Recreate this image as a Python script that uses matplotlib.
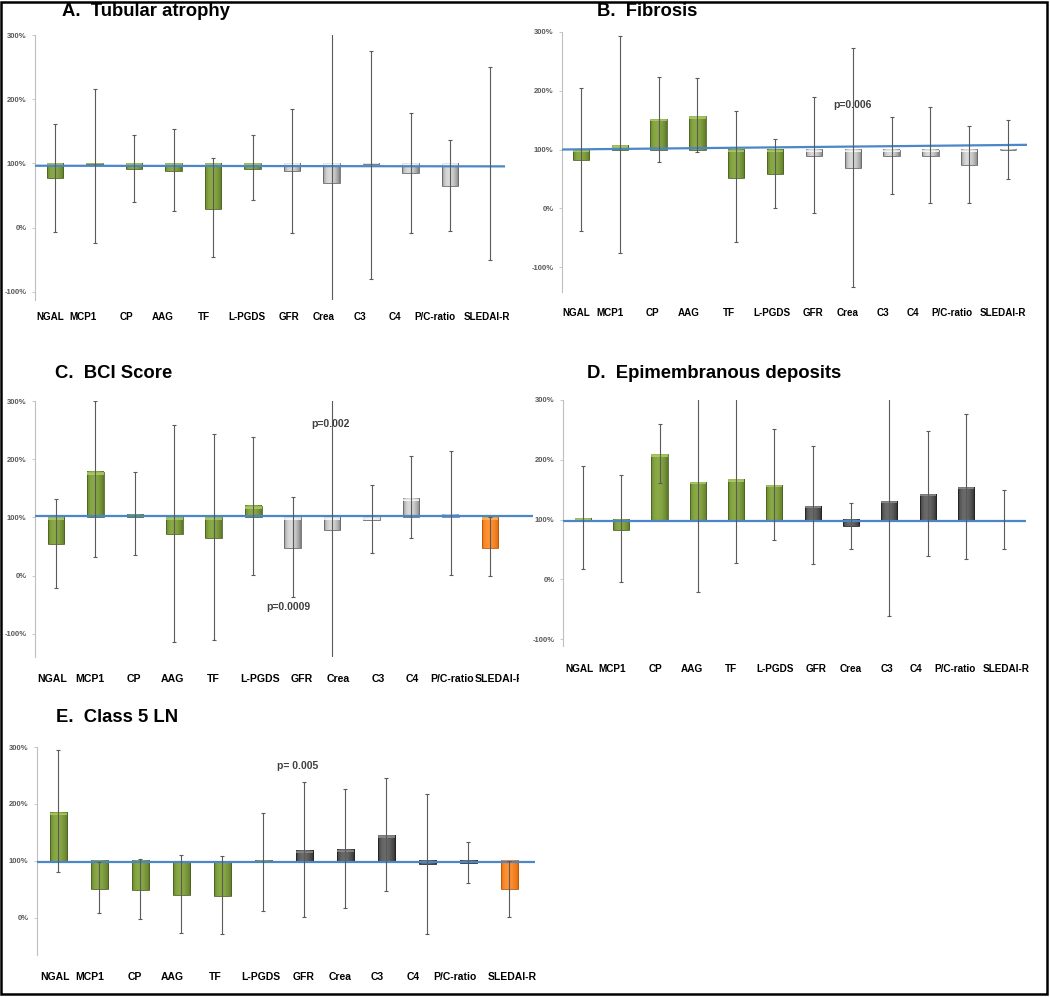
import numpy as np
import matplotlib
matplotlib.use('Agg')
import matplotlib.pyplot as plt
from matplotlib.patches import Rectangle
from matplotlib.transforms import Bbox, TransformedBbox

plt.rcParams['font.family'] = ['Liberation Sans', 'DejaVu Sans']

# ----------------------- data (percent of reference) -----------------------
cats = ['NGAL', 'MCP1', 'CP', 'AAG', 'TF', 'L-PGDS', 'GFR', 'Crea', 'C3', 'C4', 'P/C-ratio', 'SLEDAI-R']
titles = ['A.  Tubular atrophy', 'B.  Fibrosis', 'C.  BCI Score',
          'D.  Epimembranous deposits', 'E.  Class 5 LN']

A_val = [77, 99, 92, 89, 29, 92, 88, 69, 99, 85, 65, 100]
A_hi = [162, 216, 145, 153, 108, 144, 185, 320, 275, 178, 137, 250]
A_lo = [-6, -23, 40, 26, -46, 43, -8, -125, -80, -8, -5, -50]
A_ref = [96.5, 95.5]
A_grp = ['g'] * 6 + ['l'] * 6

B_val = [82, 107, 152, 157, 52, 58, 89, 69, 89, 89, 73, 99]
B_hi = [205, 293, 224, 221, 166, 118, 189, 273, 155, 173, 140, 151]
B_lo = [-38, -76, 78, 95, -58, 1, -8, -134, 24, 9, 9, 49]
B_ref = [100, 108]
B_grp = ['g'] * 6 + ['l'] * 6

C_val = [54, 178, 105, 71, 65, 119, 47, 79, 95, 132, 105, 47]
C_hi = [131, 300, 178, 259, 244, 238, 135, 320, 156, 205, 214, 100]
C_lo = [-21, 33, 35, -114, -111, 2, -36, -150, 39, 65, 2, 0]
C_ref = [103, 103]
C_grp = ['g'] * 6 + ['l', 'l', 'l', 'l', 'b', 'o']

D_val = [102, 83, 209, 163, 167, 158, 123, 89, 131, 143, 155, 100]
D_hi = [189, 174, 259, 320, 320, 251, 223, 128, 320, 248, 276, 150]
D_lo = [18, -5, 161, -22, 28, 66, 25, 51, -61, 39, 34, 50]
D_ref = [97, 97]
D_grp = ['g'] * 6 + ['d'] * 6

E_val = [185, 50, 49, 41, 39, 98, 118, 120, 145, 94, 96, 50]
E_hi = [295, 98, 103, 111, 109, 184, 239, 227, 246, 218, 133, 100]
E_lo = [80, 9, -1, -26, -29, 12, 1, 18, 47, -28, 61, 1]
E_ref = [98, 98]
E_grp = ['g'] * 6 + ['d'] * 5 + ['o']

# p-value notes: (panel, text, category position, percent)
notes = [(1, 'p=0.006', 7.0, 175), (2, 'p=0.002', 6.95, 260),
         (2, 'p=0.0009', 5.88, -54), (4, 'p= 0.005', 5.85, 267)]

# ----------------------- layout (pixels) -----------------------------------
W, H = 1050, 997
# axes box x0, x1, ytop, ybot ; ylim bottom ; xlim ; title pos ; label y ; label x (bar units)
layout = [
    dict(box=(35, 505, 35, 300), ymin=-112.5, xl=(-0.51, 11.39), tt=(62, 12), lab=317, fs=7.1,
         lx=[-0.13, 0.71, 1.8, 2.73, 3.77, 4.86, 5.92, 6.81, 7.72, 8.61, 9.62, 10.94]),
    dict(box=(562, 1027, 32, 292), ymin=-142.5, xl=(-0.49, 11.49), tt=(597, 12), lab=313, fs=7.1,
         lx=[-0.11, 0.75, 1.84, 2.78, 3.81, 4.92, 5.98, 6.86, 7.79, 8.55, 9.55, 10.88]),
    dict(box=(35, 533, 401, 657), ymin=-139.5, xl=(-0.53, 12.09), tt=(55, 373), lab=679, fs=7.6,
         lx=[-0.1, 0.86, 1.98, 2.94, 3.98, 5.17, 6.24, 7.15, 8.16, 9.02, 10.04, 11.25]),
    dict(box=(563, 1026, 400, 646), ymin=-111.7, xl=(-0.52, 11.57), tt=(587, 373), lab=669, fs=7.2,
         lx=[-0.08, 0.77, 1.9, 2.85, 3.87, 5.01, 6.08, 6.99, 7.93, 8.7, 9.72, 11.06]),
    dict(box=(37, 535, 747, 955), ymin=-65, xl=(-0.52, 11.63), tt=(56, 717), lab=977, fs=7.5,
         lx=[-0.07, 0.77, 1.87, 2.79, 3.82, 4.93, 5.98, 6.88, 7.79, 8.67, 9.68, 11.07]),
]
crop_C = 519  # panel C was cropped on the right in the original figure

colors = {  # edge, centre of the cylinder shading
    'g': ('#5a7427', '#8aaa45'),
    'l': ('#7a7a7a', '#dadada'),
    'd': ('#282828', '#6a6a6a'),
    'o': ('#d9650a', '#ff9233'),
    'b': ('#7b9cc6', '#c4d5ea'),
}


def hex2rgb(h):
    return np.array(matplotlib.colors.to_rgb(h))


def cyl_bar(ax, x, v, w, grp, cap_h):
    edge, mid = hex2rgb(colors[grp][0]), hex2rgb(colors[grp][1])
    y0, y1 = min(100, v), max(100, v)
    if y1 - y0 < 0.3:
        return
    t = np.linspace(0, 1, 40)
    prof = np.sin(np.pi * t ** 0.75) ** 0.7
    rgb = edge + (mid - edge) * prof[:, None]
    ax.imshow(rgb[None, :, :], extent=(x - w / 2, x + w / 2, y0, y1), aspect='auto',
              interpolation='bilinear', zorder=2)
    ax.add_patch(Rectangle((x - w / 2, y0), w, y1 - y0, fill=False,
                           ec=edge * 0.85, lw=0.6, zorder=2.1))
    top = np.clip(mid + 0.15, 0, 1)
    ch = min(cap_h, y1 - y0)
    ax.add_patch(Rectangle((x - w / 2, y1 - ch), w, ch, fc=top, ec='none', alpha=0.8, zorder=2.2))


fig = plt.figure(figsize=(W / 100, H / 100), dpi=100)
fig.patch.set_facecolor('white')

panels = [(A_val, A_hi, A_lo, A_ref, A_grp), (B_val, B_hi, B_lo, B_ref, B_grp),
          (C_val, C_hi, C_lo, C_ref, C_grp), (D_val, D_hi, D_lo, D_ref, D_grp),
          (E_val, E_hi, E_lo, E_ref, E_grp)]
axes = []
for k, (val, hi, lo, ref, grp) in enumerate(panels):
    L = layout[k]
    x0, x1, yt, yb = L['box']
    ax = fig.add_axes([x0 / W, 1 - yb / H, (x1 - x0) / W, (yb - yt) / H])
    axes.append(ax)
    x = np.arange(len(cats))
    px100 = (yb - yt) / (300 - L['ymin'])  # pixels per percent
    for i in range(len(cats)):
        cyl_bar(ax, x[i], val[i], 0.42, grp[i], 2.5 / px100)
    ax.plot(L['xl'], ref, color='#4a86c8', lw=1.6, zorder=3, solid_capstyle='butt')
    ax.vlines(x, lo, hi, color='#5a5a5a', lw=0.8, zorder=4)
    ax.plot(x, hi, ls='none', marker='_', ms=3.5, mew=0.8, color='#5a5a5a', zorder=4)
    ax.plot(x, lo, ls='none', marker='_', ms=3.5, mew=0.8, color='#5a5a5a', zorder=4)

    ax.set_xlim(*L['xl'])
    ax.set_ylim(L['ymin'], 300)
    yt_vals = [v for v in [-100, 0, 100, 200, 300] if v >= L['ymin']]
    ax.set_yticks(yt_vals)
    ax.set_yticklabels(['%d%%' % v for v in yt_vals], fontsize=5.5, fontweight='bold', color='#595959')
    ax.tick_params(axis='y', length=2, width=0.6, color='#bfbfbf', pad=4)
    ax.set_xticks([])
    # category labels as a separate text row, as in the source figure
    for j, c in enumerate(cats):
        xs = x0 + (L['lx'][j] - L['xl'][0]) / (L['xl'][1] - L['xl'][0]) * (x1 - x0)
        t = fig.text(xs / W, 1 - L['lab'] / H, c, fontsize=L['fs'], fontweight='bold',
                     ha='center', va='center')
        if k == 2:
            t.set_clip_box(TransformedBbox(Bbox.from_extents(0, 0, crop_C / W, 1), fig.transFigure))
            t.set_clip_on(True)
    for s in ['top', 'right', 'bottom']:
        ax.spines[s].set_visible(False)
    ax.spines['left'].set_color('#bfbfbf')
    ax.spines['left'].set_linewidth(0.8)
    ax.patch.set_alpha(0)
    fig.text(L['tt'][0] / W, 1 - L['tt'][1] / H, titles[k], fontsize=13.3,
             fontweight='bold', va='center', ha='left')

for k, txt, xp, yp in notes:
    axes[k].text(xp, yp, txt, fontsize=7.5, fontweight='bold', color='#404040',
                 ha='center', va='center', zorder=5)

fig.add_artist(Rectangle((1 / W, 3 / H), 1046 / W, 992 / H, transform=fig.transFigure,
                         fill=False, ec='black', lw=1.8))

fig.savefig('out.png', dpi=100)
